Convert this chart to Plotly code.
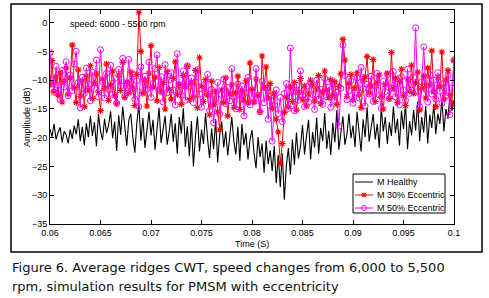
import numpy as np
import plotly.graph_objects as go

# ---- data ----
time_start, time_end, n_pts = 0.06, 0.1, 201
time_s = np.linspace(time_start, time_end, n_pts)

healthy = [
    -18.5,-19.8,-17.6,-20.3,-19.1,-18.2,-20.8,-18.9,-19.5,-21.0,
    -18.6,-20.2,-17.9,-19.4,-16.8,-20.6,-18.1,-21.3,-17.5,-19.9,
    -16.2,-19.7,-17.3,-21.5,-15.9,-18.8,-20.4,-16.7,-19.2,-17.8,
    -15.4,-20.1,-17.2,-22.3,-16.1,-19.5,-14.6,-18.7,-21.4,-17.0,
    -15.8,-19.9,-22.6,-17.4,-14.3,-20.5,-16.6,-21.8,-18.2,-15.5,
    -19.6,-16.9,-22.1,-17.7,-14.8,-20.9,-18.3,-16.2,-21.2,-19.0,
    -15.9,-20.7,-17.5,-22.8,-16.4,-19.3,-14.9,-21.6,-18.0,-23.2,
    -17.1,-25.0,-19.7,-16.3,-22.4,-18.6,-21.1,-15.7,-20.2,-23.5,
    -18.4,-22.0,-16.8,-24.3,-19.5,-17.2,-21.7,-18.9,-23.1,-19.8,
    -16.4,-20.6,-22.9,-18.1,-24.0,-17.6,-21.3,-19.2,-23.8,-20.4,
    -18.7,-22.6,-25.3,-19.9,-23.4,-21.0,-26.1,-20.5,-24.6,-22.2,
    -25.8,-21.4,-27.9,-23.0,-28.6,-22.7,-30.8,-24.9,-21.8,-26.4,
    -20.3,-24.7,-19.1,-23.6,-21.5,-17.8,-22.9,-19.6,-16.9,-23.8,
    -19.0,-21.7,-16.5,-22.8,-18.3,-20.6,-15.7,-21.9,-18.8,-23.0,
    -17.4,-20.8,-15.2,-22.1,-18.6,-16.3,-21.2,-19.4,-15.8,-20.1,
    -17.9,-21.6,-15.5,-19.3,-22.4,-16.8,-19.9,-14.7,-20.7,-18.2,
    -15.9,-20.3,-17.6,-21.8,-14.8,-18.9,-16.4,-21.1,-17.3,-19.7,
    -14.6,-19.2,-16.7,-21.4,-15.3,-18.5,-13.9,-22.0,-17.1,-19.6,
    -15.2,-18.8,-13.7,-20.6,-16.4,-19.1,-14.5,-21.0,-16.0,-18.3,
    -14.1,-19.4,-15.8,-17.6,-13.2,-18.9,-15.0,-16.7,-12.6,-15.3,
    -13.5,
]

ecc30 = [
    -10.8,-6.6,-11.9,-9.4,-12.6,-8.7,-13.8,-10.2,-7.9,-12.4,
    -9.6,-3.9,-11.3,-13.9,-8.2,-12.8,-10.1,-14.6,-9.3,-11.7,
    -7.5,-13.2,-10.6,-8.9,-12.1,-15.3,-9.8,-11.4,-7.2,-13.5,
    -10.9,-8.4,-12.7,-14.1,-9.1,-11.8,-6.9,-13.0,-10.3,-12.2,
    -8.6,-11.5,-14.4,-9.0,1.8,-5.0,-12.3,-10.0,-14.5,-8.8,
    -4.0,-11.2,-9.5,-13.6,-7.8,-12.0,-10.4,-15.0,-8.5,-11.6,
    -13.3,-9.7,-6.8,-12.5,-10.7,-14.2,-9.2,-11.1,-7.6,-13.4,
    -10.5,-12.9,-8.3,-14.8,-6.1,-11.0,-13.7,-9.9,-12.6,-16.0,
    -10.2,-14.3,-12.0,-15.5,-18.6,-11.7,-13.9,-9.6,-16.2,-12.4,
    -10.8,-14.7,-12.2,-9.3,-15.1,-11.9,-13.5,-10.1,-14.0,-7.0,
    -11.6,-13.8,-9.8,-12.7,-15.4,-5.8,-11.3,-7.7,-13.1,-10.6,
    -14.9,-12.3,-16.8,-19.0,-24.4,-21.0,-15.6,-12.9,-14.6,-11.2,
    -13.7,-10.4,-15.2,-12.1,-9.7,-13.3,-11.0,-14.5,-12.4,-10.0,
    -10.8,-13.6,-11.5,-9.2,-14.1,-12.0,-8.4,-11.7,-13.0,-9.9,
    -12.6,-10.3,-14.2,-11.1,-8.9,-2.9,-6.5,-12.8,-10.6,-9.0,
    -13.4,-11.3,-8.7,-12.5,-14.8,-10.1,-9.4,-5.9,-12.2,-11.0,
    -6.4,-13.7,-10.4,-9.1,-12.9,-15.0,-10.7,-8.8,-13.2,-5.2,
    -11.5,-9.6,-13.9,-10.2,-8.1,-12.7,-14.4,-9.8,-11.9,-7.4,
    -12.3,-10.5,-8.6,-15.2,-11.4,-9.3,-13.1,-7.9,-10.8,-4.9,
    -12.0,-14.6,-9.5,-11.2,-5.1,-13.3,-10.0,-8.3,-12.6,-14.1,
    -6.6,
]

ecc50 = [
    -5.2,-9.8,-12.1,-7.6,-10.9,-13.4,-8.3,-11.2,-6.8,-12.7,
    -9.1,-11.8,-7.2,-5.0,-10.4,-14.8,-9.5,-12.3,-7.9,-10.7,
    -13.6,-8.6,-11.4,-6.5,-12.9,-4.7,-10.2,-13.1,-8.8,-11.6,
    -7.4,-12.5,-9.7,-14.0,-8.1,-11.0,-6.2,-12.8,-10.5,-6.4,
    -11.9,-8.9,-13.3,-10.1,-14.6,-7.7,-12.0,-9.3,-11.5,-6.9,
    -13.0,-10.6,-8.0,-5.6,-11.8,-9.4,-13.8,-7.3,-12.2,-10.0,
    -8.7,-11.7,-14.3,-5.4,-10.8,-12.6,-8.4,-13.5,-7.5,-11.1,
    -9.6,-13.9,-10.3,-8.2,-12.4,-14.7,-10.9,-12.1,-9.0,-15.3,
    -11.6,-17.4,-13.2,-10.4,-15.9,-12.5,-9.8,-14.1,-11.3,-13.6,
    -8.0,-12.9,-15.0,-10.7,-13.4,-11.0,-16.2,-12.2,-9.5,-14.3,
    -11.8,-13.7,-8.0,-12.6,-15.5,-10.2,-13.9,-11.4,-16.8,-12.8,
    -20.6,-14.4,-11.7,-15.8,-13.0,-17.2,-12.3,-10.6,-14.9,-4.4,
    -12.0,-15.3,-10.9,-13.5,-8.4,-12.7,-14.6,-11.1,-13.8,-10.4,
    -12.5,-15.1,-10.0,-13.3,-11.6,-14.2,-9.7,-12.9,-11.2,-14.7,
    -10.3,-13.6,-12.1,-18.0,-11.4,-3.9,-9.2,-13.4,-11.8,-10.1,
    -14.0,-12.2,-9.6,-13.1,-7.8,-11.5,-14.5,-10.7,-12.4,-9.3,
    -13.7,-11.0,-8.8,-12.6,-14.9,-10.2,-12.0,-9.0,-13.2,-11.4,
    -8.5,-12.9,-10.6,-14.3,-9.4,-11.7,-13.5,-8.1,-12.3,-10.8,
    -9.5,-0.9,-12.0,-14.6,-10.3,-4.2,-11.6,-13.8,-9.1,-12.4,
    -10.0,-13.3,-8.7,-11.9,-14.0,-10.5,-12.7,-9.2,-16.0,-11.3,
    -6.5,
]

series_names = ["M Healthy", "M 30% Eccentric", "M 50% Eccentric"]
series_colors = ["#000000", "#ff0000", "#ff00ff"]
x_ticks = [0.06, 0.065, 0.07, 0.075, 0.08, 0.085, 0.09, 0.095, 0.1]
x_tick_text = ["0.06", "0.065", "0.07", "0.075", "0.08", "0.085", "0.09", "0.095", "0.1"]
y_ticks = [-35, -30, -25, -20, -15, -10, -5, 0]

# ---- figure ----
W, H = 489, 298
L, R, T, B = 50, 35, 10, 74
pw, ph = W - L - R, H - T - B

def px_x(p):
    return (p - L) / pw

def px_y(p):
    return (H - B - p) / ph

fig = go.Figure()
fig.add_trace(go.Scatter(x=time_s, y=healthy, mode="lines", name=series_names[0],
                         line=dict(color=series_colors[0], width=1.1)))
fig.add_trace(go.Scatter(x=time_s, y=ecc30, mode="lines+markers", name=series_names[1],
                         line=dict(color=series_colors[1], width=1),
                         marker=dict(symbol="asterisk-open", size=5.5,
                                     line=dict(color=series_colors[1], width=1.1))))
fig.add_trace(go.Scatter(x=time_s, y=ecc50, mode="lines+markers", name=series_names[2],
                         line=dict(color=series_colors[2], width=1),
                         marker=dict(symbol="circle-open", size=6,
                                     line=dict(color=series_colors[2], width=1))))

fnt = "Liberation Sans, Arial"
axis_font = dict(family=fnt, size=9, color="black")
fig.update_xaxes(range=[time_start, time_end], tickvals=x_ticks, ticktext=x_tick_text,
                 ticks="inside", ticklen=4, tickcolor="black", mirror="ticks",
                 showline=True, linecolor="black", linewidth=1, showgrid=False,
                 zeroline=False, tickfont=axis_font)
fig.update_yaxes(range=[-35, 2.2], tickvals=y_ticks, ticks="inside", ticklen=4,
                 tickcolor="black", mirror="ticks", showline=True, linecolor="black",
                 linewidth=1, showgrid=False, zeroline=False, tickfont=axis_font)

anns = [
    dict(text="speed: 6000 - 5500 rpm", x=px_x(68), y=px_y(24), xanchor="left",
         yanchor="middle", font=dict(family=fnt, size=9, color="black")),
    dict(text="Time (S)", x=px_x(252), y=px_y(244), xanchor="center", yanchor="middle",
         font=dict(family=fnt, size=9, color="black")),
    dict(text="Amplitude (dB)", x=px_x(27), y=px_y(117), xanchor="center",
         yanchor="middle", textangle=-90, font=dict(family=fnt, size=9, color="black")),
    dict(text="Figure 6. Average ridges CWT, speed changes from 6,000 to 5,500",
         x=px_x(10), y=px_y(267), xanchor="left", yanchor="middle",
         font=dict(family="DejaVu Sans", size=13, color="#111111")),
    dict(text="rpm, simulation results for PMSM with eccentricity",
         x=px_x(10), y=px_y(286), xanchor="left", yanchor="middle",
         font=dict(family="DejaVu Sans", size=13, color="#111111")),
]

# manual legend (box, sample lines, markers, labels)
shapes = [dict(type="rect", x0=px_x(11), x1=px_x(482), y0=px_y(252), y1=px_y(4),
               line=dict(color="black", width=1.5), layer="below"),
          dict(type="rect", x0=px_x(353), x1=px_x(445), y0=px_y(213), y1=px_y(174),
               line=dict(color="black", width=1), fillcolor="white", layer="above")]
row_y = [182, 195, 208]
lx0, lx1, lxm = 355, 373, 364
for i, (name, col) in enumerate(zip(series_names, series_colors)):
    ry = row_y[i]
    shapes.append(dict(type="line", x0=px_x(lx0), x1=px_x(lx1), y0=px_y(ry), y1=px_y(ry),
                       line=dict(color=col, width=1), layer="above"))
    anns.append(dict(text=name, x=px_x(375), y=px_y(ry), xanchor="left", yanchor="middle",
                     font=dict(family=fnt, size=9, color="black")))
# asterisk marker for 30% row
ry = row_y[1]
for dx, dy in [(2.5, 0), (0, 2.5), (1.8, 1.8), (1.8, -1.8)]:
    shapes.append(dict(type="line", x0=px_x(lxm - dx), x1=px_x(lxm + dx),
                       y0=px_y(ry - dy), y1=px_y(ry + dy),
                       line=dict(color=series_colors[1], width=1.1), layer="above"))
# circle marker for 50% row
ry = row_y[2]
shapes.append(dict(type="circle", x0=px_x(lxm - 2.5), x1=px_x(lxm + 2.5),
                   y0=px_y(ry + 2.5), y1=px_y(ry - 2.5),
                   line=dict(color=series_colors[2], width=1), layer="above"))

for s in shapes:
    s.update(xref="paper", yref="paper")
for a in anns:
    a.update(xref="paper", yref="paper", showarrow=False)

fig.update_layout(
    width=W, height=H, margin=dict(l=L, r=R, t=T, b=B),
    paper_bgcolor="white", plot_bgcolor="white",
    showlegend=False,
    annotations=anns,
    shapes=shapes,
)

fig.write_html("out.html", config={"displayModeBar": False},
               post_script="document.body.style.margin='0';document.body.style.overflow='hidden';")
